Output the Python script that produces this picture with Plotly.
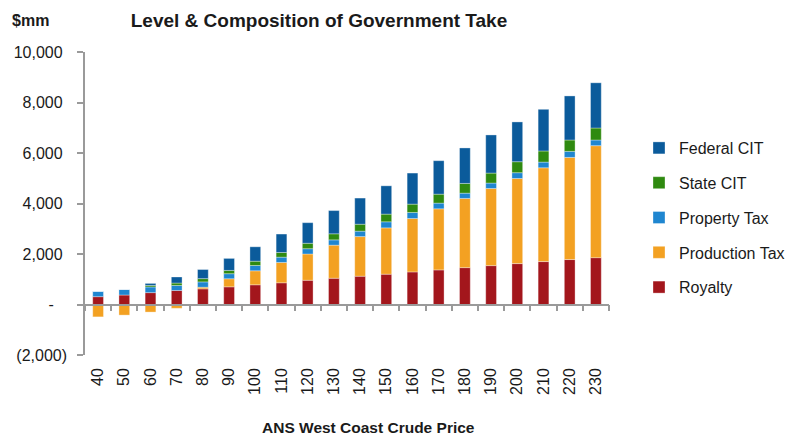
import plotly.graph_objects as go

prices = ["40", "50", "60", "70", "80", "90", "100", "110", "120", "130",
          "140", "150", "160", "170", "180", "190", "200", "210", "220", "230"]
royalty = [310, 375, 470, 555, 620, 700, 780, 860, 960, 1040,
           1120, 1200, 1290, 1370, 1460, 1540, 1620, 1700, 1780, 1855]
production_tax = [-490, -420, -300, -150, 65, 320, 555, 805, 1040, 1310,
                  1570, 1835, 2115, 2420, 2740, 3055, 3370, 3715, 4045, 4435]
property_tax = [215, 225, 225, 200, 210, 200, 210, 210, 210, 210,
                215, 240, 240, 225, 210, 215, 230, 225, 240, 225]
state_cit = [0, 0, 60, 95, 130, 130, 170, 185, 215, 240,
             275, 305, 330, 355, 385, 395, 435, 440, 450, 475]
federal_cit = [0, 0, 80, 240, 360, 475, 570, 730, 815, 920,
               1035, 1120, 1230, 1325, 1405, 1510, 1575, 1650, 1745, 1790]

y_tickvals = [-2000, 0, 2000, 4000, 6000, 8000, 10000]
y_ticktext = ["(2,000)", "-\u00a0\u00a0\u00a0", "2,000\u00a0", "4,000\u00a0",
              "6,000\u00a0", "8,000\u00a0", "10,000\u00a0"]

series = [
    ("Royalty", royalty, "#A3161C"),
    ("Production Tax", production_tax, "#F3A122"),
    ("Property Tax", property_tax, "#1F86D0"),
    ("State CIT", state_cit, "#2F8A10"),
    ("Federal CIT", federal_cit, "#0B5B9B"),
]

FONT = "Arial, 'Liberation Sans', sans-serif"
AXIS_GRAY = "#9a9a9a"

fig = go.Figure()
n = len(series)
for i, (name, vals, color) in enumerate(series):
    fig.add_trace(go.Bar(
        x=prices, y=vals, name=name, legendgroup=f"g{i}", legendrank=n - i,
        marker=dict(color=color, line=dict(color="rgba(255,255,255,0.55)", width=0.6)),
    ))

# helper trace so the zero-crossing category axis (ticks at boundaries) is drawn
fig.add_trace(go.Scatter(
    x=prices, y=[0] * len(prices), xaxis="x2", yaxis="y",
    mode="lines", line=dict(width=0), showlegend=False, hoverinfo="skip",
))

x_range = [-0.5, len(prices) - 0.5]

fig.update_layout(
    width=792, height=436,
    margin=dict(l=85, r=183, t=52, b=81, autoexpand=False),
    paper_bgcolor="white", plot_bgcolor="white",
    barmode="relative", bargap=0.59,
    font=dict(family=FONT, size=16, color="#1a1a1a"),
    title=dict(text="<b>Level & Composition of Government Take</b>",
               x=319 / 792, xanchor="center", xref="container",
               y=1 - 20 / 436, yanchor="middle", yref="container",
               font=dict(family=FONT, size=19, color="#1a1a1a")),
    xaxis=dict(
        type="category", categoryorder="array", categoryarray=prices,
        range=x_range,
        showline=False, ticks="", showgrid=False, zeroline=False,
        tickangle=-90, tickfont=dict(size=16), ticklabelstandoff=9,
        automargin=False,
    ),
    xaxis2=dict(
        overlaying="x", matches="x", anchor="free", position=2000 / 12000,
        type="category", categoryorder="array", categoryarray=prices,
        showticklabels=False, ticks="outside", tickson="boundaries",
        ticklen=6, tickcolor=AXIS_GRAY, tickwidth=1.5,
        showline=True, linecolor=AXIS_GRAY, linewidth=1.5,
        showgrid=False, zeroline=False,
    ),
    yaxis=dict(
        range=[-2000, 10000], tickvals=y_tickvals, ticktext=y_ticktext,
        showline=True, linecolor=AXIS_GRAY, linewidth=1.5,
        ticks="outside", ticklen=6, tickcolor=AXIS_GRAY, tickwidth=1.5,
        showgrid=False, zeroline=False, tickfont=dict(size=16),
        ticklabelstandoff=7, automargin=False,
    ),
    legend=dict(
        x=(639 - 85) / 524, xanchor="left",
        y=(355 - 131) / 303, yanchor="top",
        traceorder="grouped", tracegroupgap=11,
        font=dict(size=16), bgcolor="rgba(0,0,0,0)",
    ),
    annotations=[
        dict(
            text="<b>$mm</b>", xref="paper", yref="paper",
            x=(10 - 85) / 524, xanchor="left",
            y=(355 - 20) / 303, yanchor="middle",
            showarrow=False, font=dict(size=16, color="#1a1a1a"),
        ),
        dict(
            text="<b>ANS West Coast Crude Price</b>", xref="paper", yref="paper",
            x=(368 - 85) / 524, xanchor="center",
            y=(355 - 427) / 303, yanchor="middle",
            showarrow=False, font=dict(size=15.5, color="#1a1a1a"),
        ),
    ],
)

fig.write_html("out.html", config={"displayModeBar": False},
               post_script="document.body.style.margin='0';")
